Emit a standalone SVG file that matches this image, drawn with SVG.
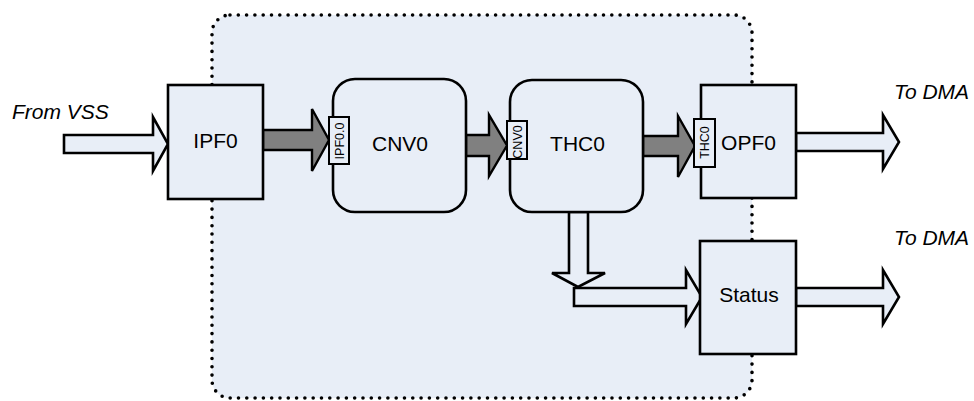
<svg xmlns="http://www.w3.org/2000/svg" width="974" height="401" viewBox="0 0 974 401">
<style>
text{font-family:"Liberation Sans",Arial,sans-serif;fill:#000}
.lbl{font-size:21px;text-anchor:middle}
.it{font-size:21px;font-style:italic}
.port{font-size:12.5px;text-anchor:middle}
.box{fill:#E8EEF7;stroke:#000;stroke-width:2.6}
.port-box{fill:#E8EEF7;stroke:#000;stroke-width:2}
.hollow{fill:#E8EEF7;stroke:#000;stroke-width:2.6;stroke-linejoin:miter}
.solid{fill:#808080;stroke:#000;stroke-width:2.4;stroke-linejoin:miter}
</style>
<rect width="974" height="401" fill="#fff"/>
<g id="container">
<rect x="212" y="15" width="540" height="383" rx="18" fill="#E8EEF7" stroke="#000" stroke-width="3.6" stroke-dasharray="0 8.3" stroke-linecap="round"/>
</g>
<g id="connectors">
<polygon class="hollow" points="64,135 153,135 153,117 168,144 153,171 153,153 64,153"/>
<polygon class="solid" points="263,130 312,130 312,109 329,140 312,171 312,150 263,150"/>
<polygon class="solid" points="466,135 489,135 489,115 507,145.5 489,176 489,156 466,156"/>
<polygon class="solid" points="643,136 678,136 678,116 695,146 678,177 678,156 643,156"/>
<polygon class="hollow" points="796,133 883,133 883,115 899,142 883,169 883,151 796,151"/>
<polygon class="hollow" points="796,288 883,288 883,270 899,297 883,324 883,306 796,306"/>
<polygon class="hollow" points="574,288 686,288 686,270 702,297 686,324 686,306 574,306"/>
<polygon class="hollow" points="569,212 569,273 552,273 578,287 605,273 588,273 588,212"/>
</g>
<g id="IPF0">
<rect class="box" x="168" y="85" width="95" height="114"/>
<text class="lbl" x="215.5" y="148">IPF0</text>
</g>
<g id="CNV0">
<rect class="box" x="333" y="79" width="133" height="133" rx="22"/>
<text class="lbl" x="400" y="151">CNV0</text>
<g id="port-IPF0.0">
<rect class="port-box" x="329" y="117" width="20" height="47"/>
<text class="port" transform="translate(343.5,141) rotate(-90)">IPF0.0</text>
</g>
</g>
<g id="THC0">
<rect class="box" x="510" y="80" width="133" height="132" rx="22"/>
<text class="lbl" x="577.5" y="151">THC0</text>
<g id="port-CNV0">
<rect class="port-box" x="507" y="121" width="20" height="38"/>
<text class="port" transform="translate(521.5,142) rotate(-90)">CNV0</text>
</g>
</g>
<g id="OPF0">
<rect class="box" x="701" y="85" width="95" height="113"/>
<text class="lbl" x="748.5" y="150">OPF0</text>
<g id="port-THC0">
<rect class="port-box" x="694" y="119" width="21" height="48"/>
<text class="port" transform="translate(709,142.5) rotate(-90)">THC0</text>
</g>
</g>
<g id="Status">
<rect class="box" x="700" y="241" width="96" height="113"/>
<text class="lbl" x="749" y="302">Status</text>
</g>
<g id="labels">
<text class="it" x="12" y="119">From VSS</text>
<text class="it" x="894" y="99">To DMA</text>
<text class="it" x="894" y="245">To DMA</text>
</g>
</svg>
